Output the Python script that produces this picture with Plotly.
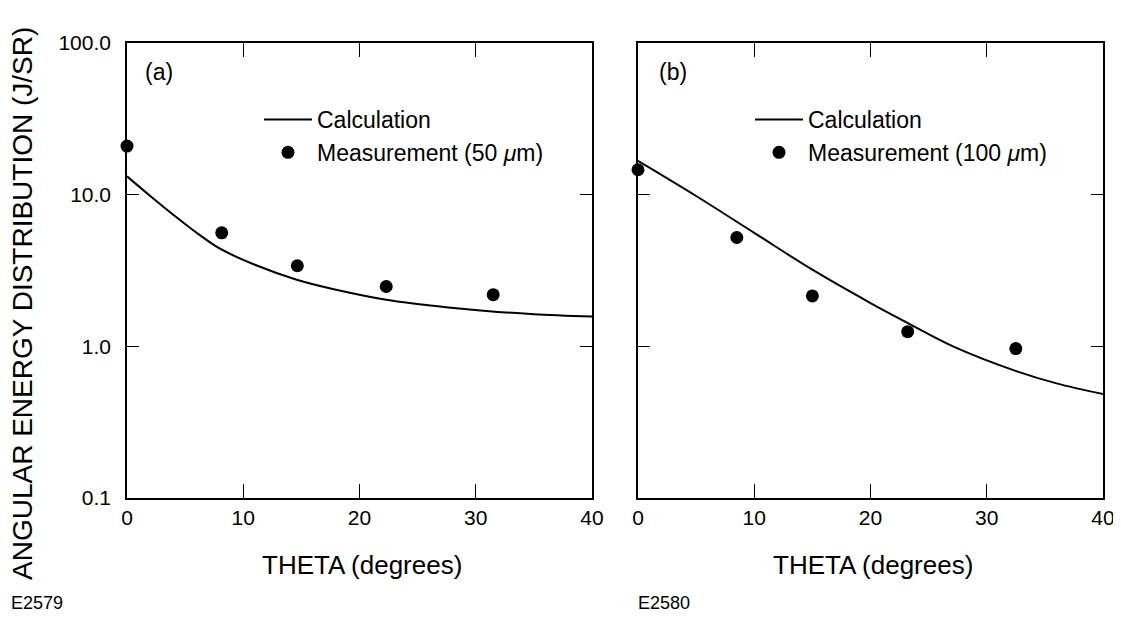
import plotly.graph_objects as go

# page is 1121x620; the html body keeps its default 8px margin,
# so the figure is sized to fit inside it without scrollbars
W, H = 1113, 604
OFF = 8

# ---- data ----
theta_calc_a = [0, 2, 4, 6, 8, 11, 14.6, 17.7, 22.3, 28.1, 30.9, 35, 40]
calc_a = [13.2, 9.8, 7.35, 5.6, 4.4, 3.45, 2.75, 2.39, 2.03, 1.79, 1.71, 1.63, 1.57]
theta_meas_a = [0, 8.15, 14.65, 22.3, 31.5]
meas_a = [20.9, 5.6, 3.4, 2.48, 2.19]

theta_calc_b = [0, 5, 10, 15, 20, 23.1, 27.1, 32.6, 36, 40]
calc_b = [16.7, 9.8, 5.6, 3.2, 1.93, 1.44, 1.0, 0.684, 0.57, 0.484]
theta_meas_b = [0, 8.5, 15.0, 23.2, 32.5]
meas_b = [14.6, 5.22, 2.15, 1.25, 0.966]

y_tickvals = [0.1, 1, 10, 100]
y_ticktext = ["0.1", "1.0", "10.0", "100.0"]
x_tickvals = [0, 10, 20, 30, 40]

FONT = "Liberation Sans, Arial, sans-serif"

def px_x(p):
    return (p - OFF) / W

def px_y(p):
    return 1 - (p - OFF) / H

fig = go.Figure()

fig.add_trace(go.Scatter(x=theta_calc_a, y=calc_a, mode="lines", name="Calculation",
                         line=dict(color="black", width=2, shape="spline"),
                         xaxis="x", yaxis="y", legend="legend", legendgroup="a1"))
fig.add_trace(go.Scatter(x=theta_meas_a, y=meas_a, mode="markers", name="Measurement (50 <i>μ</i>m)",
                         marker=dict(color="black", size=13), cliponaxis=False,
                         xaxis="x", yaxis="y", legend="legend", legendgroup="a2"))
fig.add_trace(go.Scatter(x=theta_calc_b, y=calc_b, mode="lines", name="Calculation",
                         line=dict(color="black", width=2, shape="spline"),
                         xaxis="x2", yaxis="y2", legend="legend2", legendgroup="b1"))
fig.add_trace(go.Scatter(x=theta_meas_b, y=meas_b, mode="markers", name="Measurement (100 <i>μ</i>m)",
                         marker=dict(color="black", size=13), cliponaxis=False,
                         xaxis="x2", yaxis="y2", legend="legend2", legendgroup="b2"))

ydom = [px_y(498), px_y(43)]
common_x = dict(range=[0, 40], tickvals=x_tickvals, ticks="inside", ticklen=14, tickwidth=1.3,
                tickcolor="black", showline=True, linecolor="black", linewidth=1.6,
                mirror="ticks", showgrid=False, zeroline=False, automargin=False,
                ticklabeloverflow="allow",
                tickfont=dict(family=FONT, size=21, color="black"))
common_y = dict(type="log", range=[-1, 2], tickvals=y_tickvals, ticks="inside", ticklen=12,
                tickwidth=1.3, tickcolor="black", showline=True, linecolor="black",
                linewidth=1.6, mirror="ticks", showgrid=False, zeroline=False, automargin=False,
                tickfont=dict(family=FONT, size=21, color="black"), domain=ydom)

leg_common = dict(font=dict(family=FONT, size=23, color="black"), bgcolor="rgba(0,0,0,0)",
                  xanchor="left", yanchor="top", traceorder="grouped", tracegroupgap=0,
                  itemwidth=48)

fig.update_layout(
    width=W, height=H,
    margin=dict(l=0, r=0, t=0, b=0, pad=0, autoexpand=False),
    paper_bgcolor="white", plot_bgcolor="white",
    xaxis=dict(domain=[px_x(127), px_x(592)], anchor="y", **common_x),
    yaxis=dict(anchor="x", ticktext=y_ticktext, ticklabelstandoff=10, **common_y),
    xaxis2=dict(domain=[px_x(638), px_x(1103)], anchor="y2", **common_x),
    yaxis2=dict(anchor="x2", showticklabels=False, **common_y),
    legend=dict(x=px_x(259), y=px_y(98), **leg_common),
    legend2=dict(x=px_x(750), y=px_y(98), **leg_common),
    showlegend=True,
    annotations=[
        dict(text="(a)", x=px_x(143), y=px_y(72), xref="paper", yref="paper",
             xanchor="left", yanchor="middle", showarrow=False,
             font=dict(family=FONT, size=23, color="black")),
        dict(text="(b)", x=px_x(657), y=px_y(72), xref="paper", yref="paper",
             xanchor="left", yanchor="middle", showarrow=False,
             font=dict(family=FONT, size=23, color="black")),
        dict(text="THETA (degrees)", x=px_x(362), y=px_y(565), xref="paper", yref="paper",
             xanchor="center", yanchor="middle", showarrow=False,
             font=dict(family=FONT, size=26, color="black")),
        dict(text="THETA (degrees)", x=px_x(873), y=px_y(565), xref="paper", yref="paper",
             xanchor="center", yanchor="middle", showarrow=False,
             font=dict(family=FONT, size=26, color="black")),
        dict(text="ANGULAR ENERGY DISTRIBUTION (J/SR)", x=px_x(22), y=px_y(304),
             xref="paper", yref="paper", xanchor="center", yanchor="middle",
             textangle=-90, showarrow=False,
             font=dict(family=FONT, size=28, color="black")),
        dict(text="E2579", x=px_x(9), y=px_y(603), xref="paper", yref="paper",
             xanchor="left", yanchor="middle", showarrow=False,
             font=dict(family=FONT, size=18, color="black")),
        dict(text="E2580", x=px_x(636), y=px_y(603), xref="paper", yref="paper",
             xanchor="left", yanchor="middle", showarrow=False,
             font=dict(family=FONT, size=18, color="black")),
    ],
)

fig.write_html("out.html")
